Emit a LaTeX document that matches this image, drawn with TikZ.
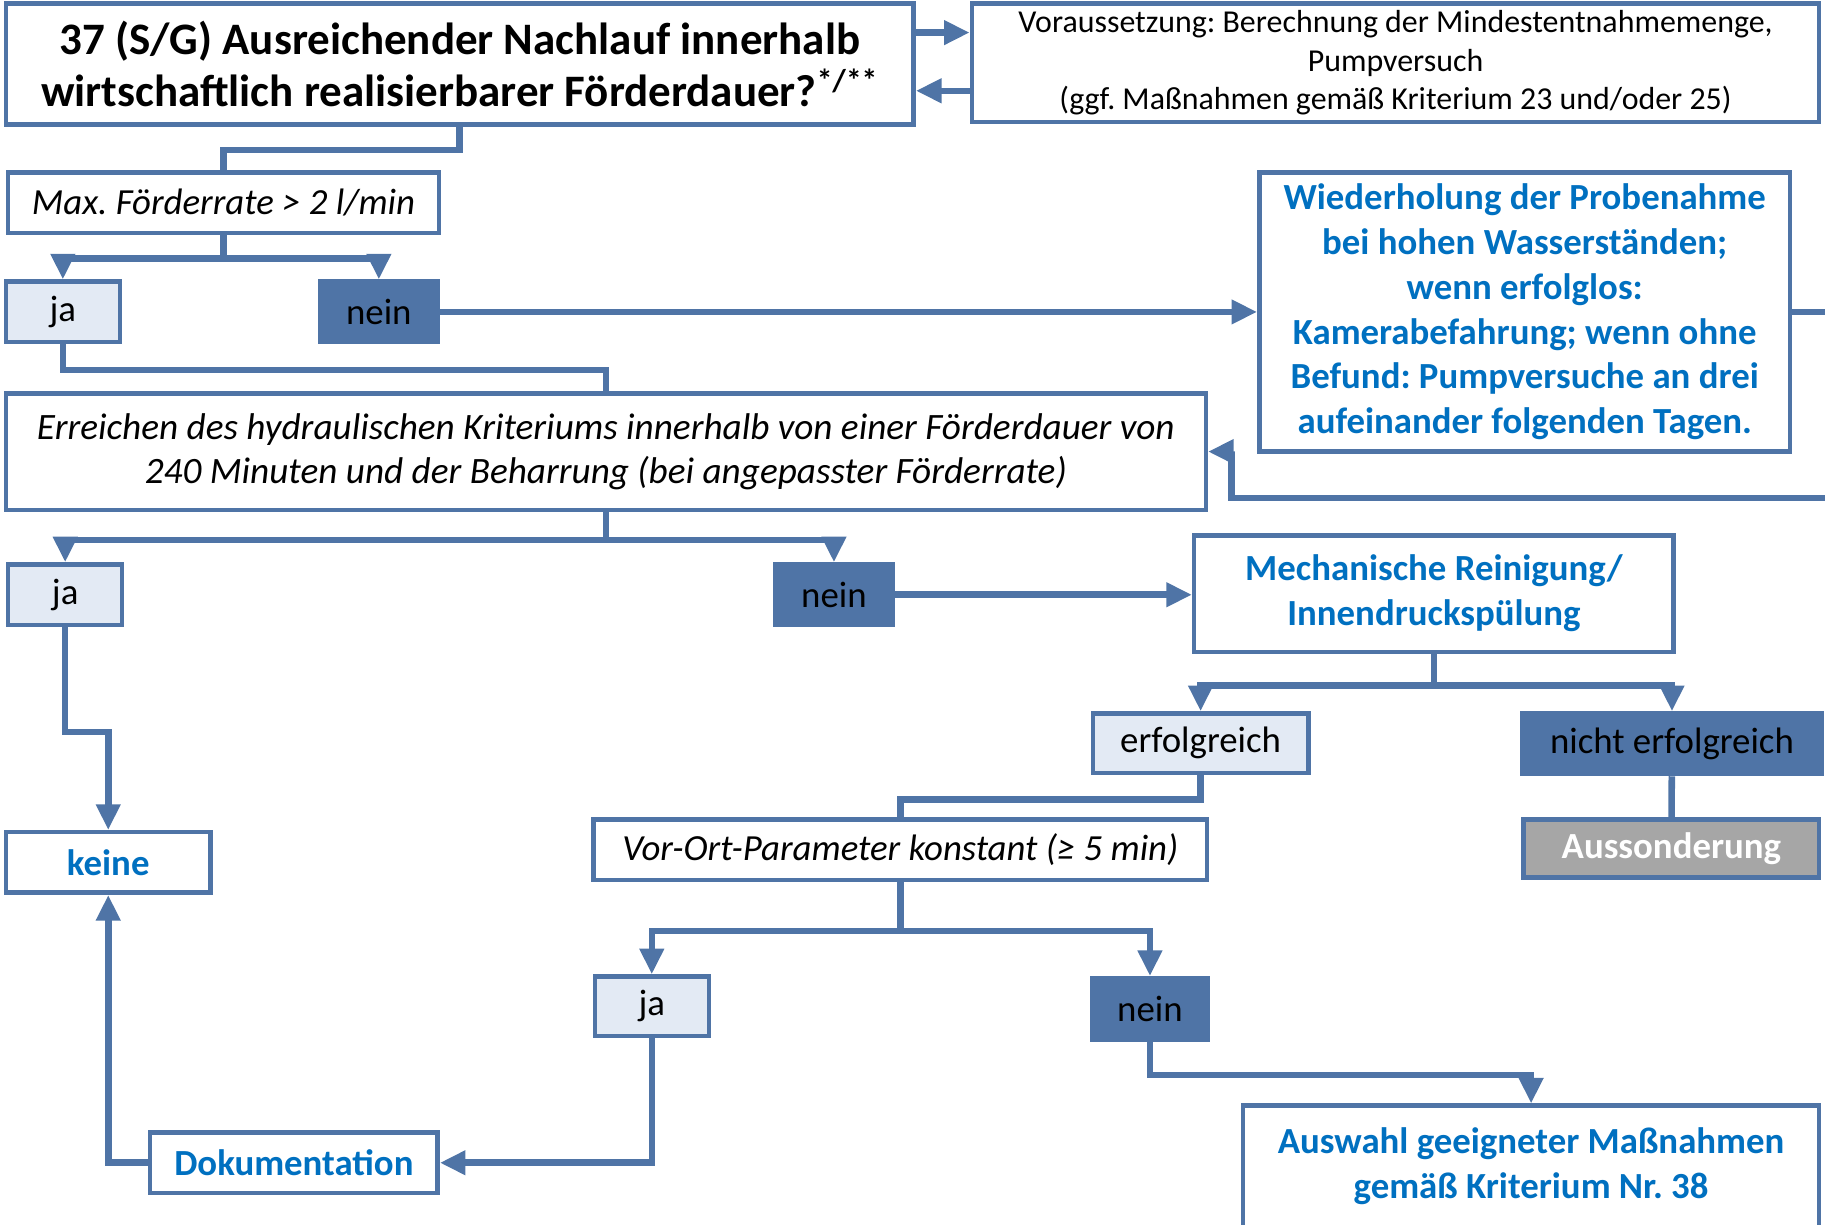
\documentclass[tikz,border=0pt]{standalone}
\usepackage{fontspec}
\setmainfont{Carlito}
\usetikzlibrary{arrows.meta, positioning, calc}
\definecolor{edgeblue}{HTML}{4F74A6}
\definecolor{yesfill}{HTML}{E3EAF4}
\definecolor{actblue}{HTML}{0070C0}
\definecolor{dropgray}{HTML}{A6A6A6}
\frenchspacing

\begin{document}
\begin{tikzpicture}[
  box/.style={rectangle, draw=edgeblue, line width=2.2pt, fill=white, inner sep=0pt,
              align=center, text=black, font=\fontsize{18}{22}\selectfont},
  yes/.style={box, fill=yesfill, minimum width=1.96cm, minimum height=1.04cm},
  no/.style={box, fill=edgeblue, minimum width=2.02cm, minimum height=1.04cm},
  act/.style={box, text=actblue, font=\fontsize{18}{22}\selectfont\bfseries},
  arr/.style={-{Triangle[length=0.44cm, width=0.4cm]}, line width=3.2pt, color=edgeblue},
  link/.style={line width=3.2pt, color=edgeblue},
]
\useasboundingbox (0,0) rectangle (31.36,-21.04);
\node[box, minimum width=15.6cm, minimum height=2.08cm, font=\fontsize{22}{25.6}\selectfont\bfseries] (q37) at (7.9,-1.1) {37 (S/G) Ausreichender Nachlauf innerhalb\\wirtschaftlich realisierbarer Förderdauer?\textsuperscript{*/**}};
\node[box, minimum width=14.56cm, minimum height=2.04cm, font=\fontsize{15.6}{18.8}\selectfont] (pre) at (23.98,-1.08) {Voraussetzung: Berechnung der Mindestentnahmemenge,\\Pumpversuch\\(ggf. Maßnahmen gemäß Kriterium 23 und/oder 25)};
\node[box, minimum width=7.4cm, minimum height=1.04cm, font=\fontsize{18}{22}\selectfont\itshape] (rate) at (3.84,-3.48) {Max. Förderrate > 2 l/min};
\node[yes] (ja1) at (1.08,-5.36) {ja};
\node[no] (nein1) at (6.51,-5.36) {nein};
\node[act, minimum width=9.12cm, minimum height=4.8cm, font=\fontsize{18}{21.9}\selectfont\bfseries] (again) at (26.2,-5.36) {Wiederholung der Probenahme\\bei hohen Wasserständen;\\wenn erfolglos:\\Kamerabefahrung; wenn ohne\\Befund: Pumpversuche an drei\\aufeinander folgenden Tagen.};
\node[box, minimum width=20.62cm, minimum height=2.0cm, font=\fontsize{18.2}{21.6}\selectfont\itshape] (hydr) at (10.41,-7.76) {Erreichen des hydraulischen Kriteriums innerhalb von einer Förderdauer von\\240 Minuten und der Beharrung (bei angepasster Förderrate)};
\node[yes] (ja2) at (1.12,-10.22) {ja};
\node[no] (nein2) at (14.33,-10.22) {nein};
\node[act, minimum width=8.24cm, minimum height=2.0cm] (clean) at (24.64,-10.2) {Mechanische Reinigung/\\Innendruckspülung};
\node[yes, minimum width=3.7cm, minimum height=1.02cm] (ok) at (20.63,-12.77) {erfolgreich};
\node[no, minimum width=5.14cm] (fail) at (28.73,-12.78) {nicht erfolgreich};
\node[act, minimum width=3.52cm, minimum height=1.04cm] (keine) at (1.86,-14.82) {keine};
\node[box, minimum width=10.54cm, minimum height=1.04cm, font=\fontsize{18}{22}\selectfont\itshape] (param) at (15.47,-14.6) {Vor-Ort-Parameter konstant (≥ 5 min)};
\node[box, fill=dropgray, text=white, font=\fontsize{18}{22}\selectfont\bfseries, minimum width=5.08cm, minimum height=1.0cm] (drop) at (28.72,-14.58) {Aussonderung};
\node[yes, minimum height=1.02cm] (ja3) at (11.2,-17.29) {ja};
\node[no, minimum width=2.0cm, minimum height=1.06cm] (nein3) at (19.76,-17.34) {nein};
\node[act, minimum width=4.94cm, minimum height=1.04cm] (doc) at (5.05,-19.98) {Dokumentation};
\node[act, minimum width=9.9cm, minimum height=2.08cm] (measure) at (26.31,-20.04) {Auswahl geeigneter Maßnahmen\\gemäß Kriterium Nr. 38};
\draw[arr] ([yshift=0.54cm]q37.east) -- ([yshift=0.54cm]q37.east -| pre.west);
\draw[arr] ([yshift=-0.48cm]pre.west) -- ([yshift=-0.48cm]pre.west -| q37.east);
\draw[link] (q37.south) -- ++(0,-0.4) -| (rate.north);
\draw[arr] (rate.south) -- ++(0,-0.4) -| (ja1.north);
\draw[arr] (rate.south) -- ++(0,-0.4) -| (nein1.north);
\draw[arr] (nein1.east) -- (again.west);
\draw[link] (ja1.south) -- ++(0,-0.44) -| (hydr.north);
\draw[arr] (again.east) -- (31.8,-5.36) -- (31.8,-8.56) -- (21.16,-8.56) |- (hydr.east);
\draw[arr] (hydr.south) -- ++(0,-0.48) -| (ja2.north);
\draw[arr] (hydr.south) -- ++(0,-0.48) -| (nein2.north);
\draw[arr] (nein2.east) -- (nein2.east -| clean.west);
\draw[arr] (ja2.south) -- ++(0,-1.8) -| (keine.north);
\draw[arr] (clean.south) -- ++(0,-0.54) -| (ok.north);
\draw[arr] (clean.south) -- ++(0,-0.54) -| (fail.north);
\draw[link] (ok.south) -- ++(0,-0.42) -| (param.north);
\draw[link] (fail) -- (drop);
\draw[arr] (param.south) -- ++(0,-0.84) -| (ja3.north);
\draw[arr] (param.south) -- ++(0,-0.84) -| (nein3.north);
\draw[arr] (ja3.south) |- (doc.east);
\draw[arr] (doc.west) -| (keine.south);
\draw[arr] (nein3.south) -- ++(0,-0.56) -| (measure.north);
\end{tikzpicture}
\end{document}
